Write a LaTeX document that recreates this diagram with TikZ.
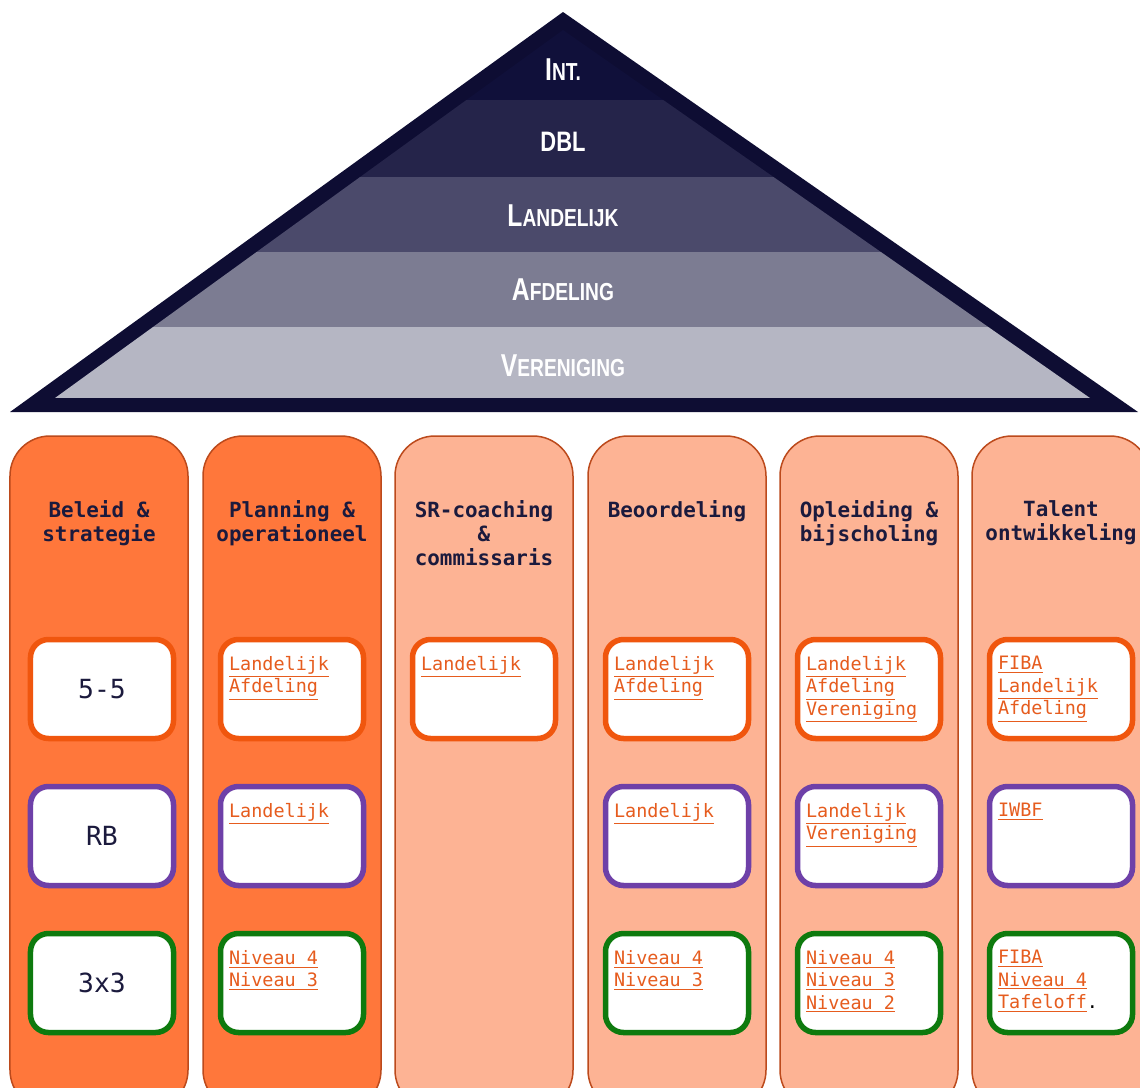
\documentclass[tikz,border=0pt]{standalone}
\usepackage{fontspec}
\setmonofont{DejaVu Sans Mono}
\newfontfamily\pyrfont[FakeStretch=0.78]{Liberation Sans}
\usetikzlibrary{positioning}

\definecolor{pyrborder}{HTML}{0E0D33}
\definecolor{pint}{HTML}{10103A}
\definecolor{pdbl}{HTML}{25244A}
\definecolor{pland}{HTML}{4B4A6B}
\definecolor{pafd}{HTML}{7C7C92}
\definecolor{pver}{HTML}{B5B6C3}
\definecolor{coldark}{HTML}{FF773B}
\definecolor{collight}{HTML}{FDB394}
\definecolor{colline}{HTML}{BC4A1C}
\definecolor{titlec}{HTML}{1B1A3D}
\definecolor{linkc}{HTML}{E65C1E}
\definecolor{rowone}{HTML}{F0560E}
\definecolor{rowtwo}{HTML}{6E40A8}
\definecolor{rowthree}{HTML}{0E7A0E}

\newcommand\pyrsc[2]{{\fontsize{18}{18}\selectfont #1}{\fontsize{14}{14}\selectfont #2}}
\newcommand\lnk[1]{\underline{#1}}

\tikzset{
  pyrlbl/.style={text=white, font=\pyrfont\bfseries, inner sep=0pt},
  colbox/.style={draw=colline, line width=0.3mm, rounded corners=8mm,
    minimum width=35.6mm, minimum height=134.8mm},
  coltitle/.style={anchor=north, align=center, inner sep=0pt, text=titlec,
    font=\ttfamily\bfseries\fontsize{11.9}{13.8}\selectfont},
  lvlbox/.style={draw, fill=white, line width=1.1mm, rounded corners=3.6mm,
    minimum width=28.6mm, minimum height=19.8mm, inner sep=0pt, text=titlec,
    font=\ttfamily\fontsize{15}{15}\selectfont},
  lvl1/.style={lvlbox, draw=rowone},
  lvl2/.style={lvlbox, draw=rowtwo},
  lvl3/.style={lvlbox, draw=rowthree},
  lnktext/.style={align=left, inner sep=0pt, text=linkc,
    font=\ttfamily\fontsize{10.5}{12.8}\selectfont}
}

\begin{document}
\begin{tikzpicture}[x=0.2mm, y=-0.2mm]
  \useasboundingbox (0,0) rectangle (1140,1088);
  \clip (0,0) rectangle (1140,1088);

  \fill[pyrborder] (563,12) -- (10,412) -- (1138,412) -- cycle;
  \begin{scope}
    \clip (563,30) -- (55,398) -- (1090,398) -- cycle;
    \fill[pint] (0,0) rectangle (1140,100);
    \fill[pdbl] (0,100) rectangle (1140,177);
    \fill[pland] (0,177) rectangle (1140,252);
    \fill[pafd] (0,252) rectangle (1140,327);
    \fill[pver] (0,327) rectangle (1140,398);
  \end{scope}
  \node[pyrlbl] (int) at (563,70) {\pyrsc{I}{NT.}};
  \node[pyrlbl] (dbl) at (563,142) {{\fontsize{16}{16}\selectfont DBL}};
  \node[pyrlbl] (land) at (563,216) {\pyrsc{L}{ANDELIJK}};
  \node[pyrlbl] (afd) at (563,290) {\pyrsc{A}{FDELING}};
  \node[pyrlbl] (ver) at (563,366) {\pyrsc{V}{ERENIGING}};

  \node[colbox, fill=coldark] (c1) at (99,773) {};
  \node[colbox, fill=coldark] (c2) at (292,773) {};
  \node[colbox, fill=collight] (c3) at (484,773) {};
  \node[colbox, fill=collight] (c4) at (677,773) {};
  \node[colbox, fill=collight] (c5) at (869,773) {};
  \node[colbox, fill=collight] (c6) at (1061,773) {};

  \node[coltitle] (h1) at (99,500) {Beleid \&\\strategie};
  \node[coltitle] (h2) at (292,500) {Planning \&\\operationeel};
  \node[coltitle] (h3) at (484,500) {SR-coaching\\\&\\commissaris};
  \node[coltitle] (h4) at (677,500) {Beoordeling};
  \node[coltitle] (h5) at (869,500) {Opleiding \&\\bijscholing};
  \node[coltitle] (h6) at (1061,500) {Talent\\ontwikkeling};

  \node[lvl1] (b11) at (102,689) {5-5};
  \node[lvl2] (b21) at (102,836) {RB};
  \node[lvl3] (b31) at (102,983) {3x3};

  \node[lvl1] (b12) at (292,689) {};
  \node[lvl2] (b22) at (292,836) {};
  \node[lvl3] (b32) at (292,983) {};
  \node[lvl1] (b13) at (484,689) {};
  \node[lvl1] (b14) at (677,689) {};
  \node[lvl2] (b24) at (677,836) {};
  \node[lvl3] (b34) at (677,983) {};
  \node[lvl1] (b15) at (869,689) {};
  \node[lvl2] (b25) at (869,836) {};
  \node[lvl3] (b35) at (869,983) {};
  \node[lvl1] (b16) at (1061,689) {};
  \node[lvl2] (b26) at (1061,836) {};
  \node[lvl3] (b36) at (1061,983) {};

  \node[lnktext, below right=3.8mm and 2.2mm of b12.north west] (t12) {\lnk{Landelijk}\\\lnk{Afdeling}};
  \node[lnktext, below right=3.8mm and 2.2mm of b22.north west] (t22) {\lnk{Landelijk}};
  \node[lnktext, below right=3.8mm and 2.2mm of b32.north west] (t32) {\lnk{Niveau 4}\\\lnk{Niveau 3}};
  \node[lnktext, below right=3.8mm and 2.2mm of b13.north west] (t13) {\lnk{Landelijk}};
  \node[lnktext, below right=3.8mm and 2.2mm of b14.north west] (t14) {\lnk{Landelijk}\\\lnk{Afdeling}};
  \node[lnktext, below right=3.8mm and 2.2mm of b24.north west] (t24) {\lnk{Landelijk}};
  \node[lnktext, below right=3.8mm and 2.2mm of b34.north west] (t34) {\lnk{Niveau 4}\\\lnk{Niveau 3}};
  \node[lnktext, below right=3.8mm and 2.2mm of b15.north west] (t15) {\lnk{Landelijk}\\\lnk{Afdeling}\\\lnk{Vereniging}};
  \node[lnktext, below right=3.8mm and 2.2mm of b25.north west] (t25) {\lnk{Landelijk}\\\lnk{Vereniging}};
  \node[lnktext, below right=3.8mm and 2.2mm of b35.north west] (t35) {\lnk{Niveau 4}\\\lnk{Niveau 3}\\\lnk{Niveau 2}};
  \node[lnktext, below right=3.8mm and 2.2mm of b16.north west] (t16) {\lnk{FIBA}\\\lnk{Landelijk}\\\lnk{Afdeling}};
  \node[lnktext, below right=3.8mm and 2.2mm of b26.north west] (t26) {\lnk{IWBF}};
  \node[lnktext, below right=3.8mm and 2.2mm of b36.north west] (t36) {\lnk{FIBA}\\\lnk{Niveau 4}\\\lnk{Tafeloff}{\color{black}.}};
\end{tikzpicture}
\end{document}
